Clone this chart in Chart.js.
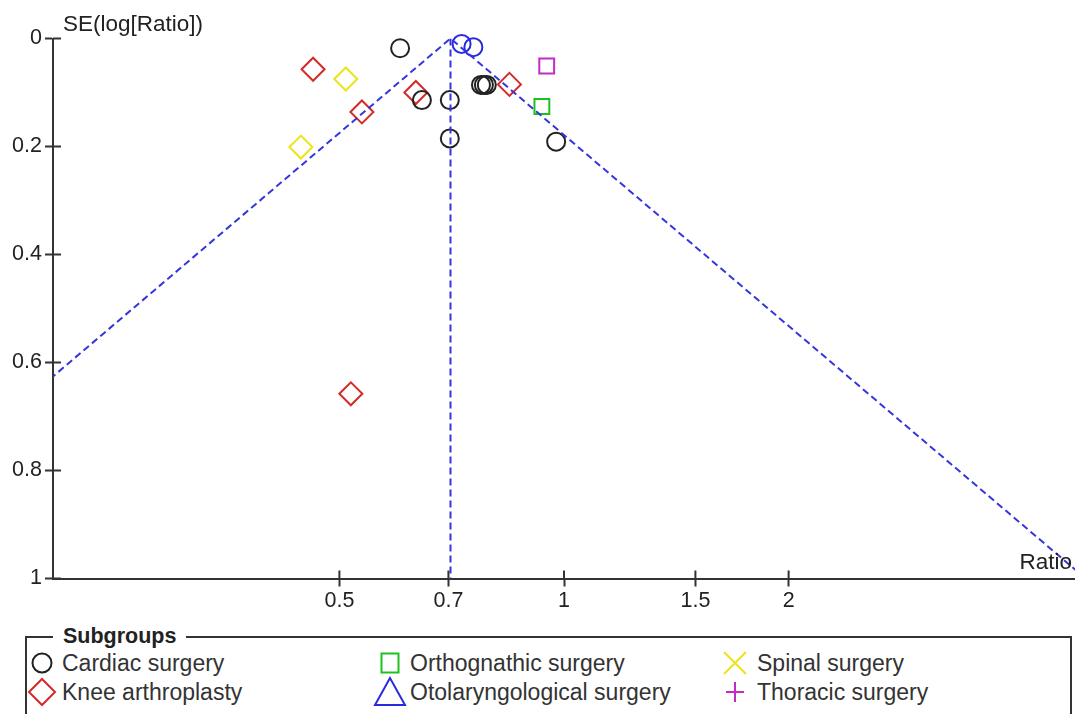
<!DOCTYPE html>
<html>
<head>
<meta charset="utf-8">
<script src="https://cdn.jsdelivr.net/npm/chart.js@4/dist/chart.umd.min.js"></script>
<style>
  html, body { margin: 0; padding: 0; background: #fff; width: 1075px; height: 714px; overflow: hidden;
    font-family: 'Liberation Sans', Arial, sans-serif; color: #222; }
  #plot { position: absolute; left: 0; top: 0; }
  #legend { position: absolute; left: 25px; top: 636px; width: 1047px; height: 130px;
    border: 2px solid #333; box-sizing: border-box; }
  #legend .title { position: absolute; left: 26px; top: -14px; background: #fff; padding: 0 10px;
    font-weight: bold; font-size: 21.5px; line-height: 24px; color: #222; }
  .item { position: absolute; font-size: 23px; line-height: 24px; white-space: nowrap; }
  .item svg { position: absolute; overflow: visible; }
</style>
</head>
<body>
<canvas id="plot" width="1075" height="620"></canvas>
<div id="legend"><span class="title">Subgroups</span></div>
<script>
// Subgroup names and colours
const subgroups = ['Cardiac surgery', 'Knee arthroplasty', 'Orthognathic surgery',
                   'Otolaryngological surgery', 'Spinal surgery', 'Thoracic surgery'];
const subgroupColors = ['#222222', '#d42a2a', '#1ec21e', '#2a2ae0', '#ece41a', '#c42ac4'];

// Study estimates: ratio and SE(log[Ratio]) per subgroup
const cardiacRatio = [0.603, 0.645, 0.703, 0.703, 0.774, 0.781, 0.788, 0.976];
const cardiacSE    = [0.018, 0.114, 0.114, 0.185, 0.086, 0.086, 0.086, 0.191];
const kneeRatio    = [0.461, 0.536, 0.633, 0.845, 0.518];
const kneeSE       = [0.057, 0.136, 0.100, 0.085, 0.658];
const orthoRatio   = [0.934];
const orthoSE      = [0.126];
const otoRatio     = [0.729, 0.756];
const otoSE        = [0.010, 0.016];
const spinalRatio  = [0.510, 0.444];
const spinalSE     = [0.075, 0.201];
const thoracicRatio = [0.948];
const thoracicSE    = [0.051];

// Pooled estimate and funnel limits
const pooledRatio = 0.7045;
const seMax = 1;
const z = 1.96;

// Axes
const xMin = 0.2066, xMax = 4.84;
const xTicks = [0.5, 0.7, 1, 1.5, 2];
const xTickLabels = ['0.5', '0.7', '1', '1.5', '2'];
const yTicks = [0, 0.2, 0.4, 0.6, 0.8, 1];
const yTickLabels = ['0', '0.2', '0.4', '0.6', '0.8', '1'];
const yAxisTitle = 'SE(log[Ratio])';
const xAxisTitle = 'Ratio';

const FONT = "'Liberation Sans', Arial, sans-serif";
const INK = '#222';
const AXIS = '#333';
const FUNNEL = '#3535dc';

function pts(rx, se) { return rx.map((r, i) => ({ x: r, y: se[i] })); }

function markerSet(label, rx, se, color, style, radius) {
  return {
    label, data: pts(rx, se), showLine: false, clip: false,
    pointStyle: style, pointRadius: radius, pointHoverRadius: radius,
    pointBorderColor: color, pointBackgroundColor: 'rgba(0,0,0,0)', pointBorderWidth: 2,
    borderColor: color, backgroundColor: 'rgba(0,0,0,0)'
  };
}

const funnelLine = {
  label: 'funnel', showLine: true, pointRadius: 0, borderColor: FUNNEL, borderWidth: 2,
  borderDash: [7, 4], fill: false,
  data: [
    { x: pooledRatio * Math.exp(-z * seMax), y: seMax },
    { x: pooledRatio, y: 0 },
    { x: pooledRatio * Math.exp(z * seMax), y: seMax }
  ]
};
const pooledLine = {
  label: 'pooled', showLine: true, pointRadius: 0, borderColor: FUNNEL, borderWidth: 2,
  borderDash: [7, 4], fill: false,
  data: [{ x: pooledRatio, y: 0 }, { x: pooledRatio, y: seMax }]
};

// Tick marks crossing into the plot, plus the axis captions
const decorations = {
  id: 'decorations',
  afterDraw(chart) {
    const { ctx, chartArea, scales } = chart;
    ctx.save();
    ctx.strokeStyle = AXIS;
    ctx.lineWidth = 2;
    ctx.beginPath();
    xTicks.forEach(v => {
      const px = scales.x.getPixelForValue(v);
      ctx.moveTo(px, chartArea.bottom);
      ctx.lineTo(px, chartArea.bottom - 8);
    });
    yTicks.forEach(v => {
      const py = scales.y.getPixelForValue(v);
      ctx.moveTo(chartArea.left, py);
      ctx.lineTo(chartArea.left + 8, py);
    });
    ctx.stroke();
    ctx.fillStyle = INK;
    ctx.font = '22.5px ' + FONT;
    ctx.textBaseline = 'alphabetic';
    ctx.textAlign = 'left';
    ctx.fillText(yAxisTitle, chartArea.left + 10, 31);
    ctx.textAlign = 'right';
    ctx.fillText(xAxisTitle, chartArea.right - 3, chartArea.bottom - 10);
    ctx.restore();
  }
};

new Chart(document.getElementById('plot'), {
  type: 'scatter',
  data: {
    datasets: [
      funnelLine, pooledLine,
      markerSet(subgroups[0], cardiacRatio, cardiacSE, subgroupColors[0], 'circle', 9),
      markerSet(subgroups[1], kneeRatio, kneeSE, subgroupColors[1], 'rectRot', 11.5),
      markerSet(subgroups[2], orthoRatio, orthoSE, subgroupColors[2], 'rect', 10.5),
      markerSet(subgroups[3], otoRatio, otoSE, subgroupColors[3], 'circle', 9),
      markerSet(subgroups[4], spinalRatio, spinalSE, subgroupColors[4], 'rectRot', 11.5),
      markerSet(subgroups[5], thoracicRatio, thoracicSE, subgroupColors[5], 'rect', 10.5)
    ]
  },
  options: {
    responsive: false,
    animation: false,
    devicePixelRatio: 1,
    layout: { autoPadding: false, padding: { top: 38.5, left: 0, right: 0, bottom: 0 } },
    plugins: { legend: { display: false }, tooltip: { enabled: false } },
    scales: {
      x: {
        type: 'logarithmic', position: 'bottom', min: xMin, max: xMax,
        afterBuildTicks: s => { s.ticks = xTicks.map(v => ({ value: v })); },
        afterFit: s => { s.height = 41.5; },
        ticks: { autoSkip: false, maxRotation: 0, padding: 2, color: INK,
                 font: { family: FONT, size: 21.5 }, callback: (v, i) => xTickLabels[i] },
        grid: { display: true, drawOnChartArea: false, drawTicks: true, tickLength: 8,
                tickWidth: 2, tickColor: AXIS, color: AXIS },
        border: { display: true, color: AXIS, width: 2 }
      },
      y: {
        type: 'linear', reverse: true, min: 0, max: 1,
        afterBuildTicks: s => { s.ticks = yTicks.map(v => ({ value: v })); },
        afterFit: s => { s.width = 53; },
        ticks: { autoSkip: false, padding: 3, color: INK,
                 font: { family: FONT, size: 21.5 }, callback: (v, i) => yTickLabels[i] },
        grid: { display: true, drawOnChartArea: false, drawTicks: true, tickLength: 8,
                tickWidth: 2, tickColor: AXIS, color: AXIS },
        border: { display: true, color: AXIS, width: 2 }
      }
    }
  },
  plugins: [decorations]
});

// Legend: symbol + label in three columns, two rows
const legendSymbols = ['circle', 'diamond', 'square', 'triangle', 'cross', 'plus'];
const legendCols = [{ sym: 15, text: 35 }, { sym: 363, text: 383 }, { sym: 708, text: 730 }];
const legendRows = [25, 54];
const legendOrder = [[0, 0], [0, 1], [1, 0], [1, 1], [2, 0], [2, 1]];

function symbolSvg(kind, color) {
  const s = 'fill="none" stroke="' + color + '" stroke-width="2"';
  switch (kind) {
    case 'circle':   return '<circle cx="0" cy="0" r="9.5" ' + s + '/>';
    case 'diamond':  return '<polygon points="-13,0 0,-13 13,0 0,13" ' + s + '/>';
    case 'square':   return '<rect x="-8.5" y="-9.5" width="17" height="19" ' + s + '/>';
    case 'triangle': return '<polygon points="0,-14 -15,13 15,13" ' + s + '/>';
    case 'cross':    return '<path d="M-11,-11 L11,11 M11,-11 L-11,11" ' + s + '/>';
    case 'plus':     return '<path d="M-9,0 L9,0 M0,-10 L0,10" ' + s + '/>';
  }
}

const legendEl = document.getElementById('legend');
subgroups.forEach((name, i) => {
  const [c, r] = legendOrder[i];
  const col = legendCols[c];
  const cy = legendRows[r];
  const item = document.createElement('div');
  item.className = 'item';
  item.style.left = col.text + 'px';
  item.style.top = (cy - 12) + 'px';
  const dx = col.sym - col.text;
  item.innerHTML = '<svg width="1" height="1" style="left:' + dx + 'px;top:12px">' +
    symbolSvg(legendSymbols[i], subgroupColors[i]) + '</svg>' +
    '<span style="color:#333">' + name + '</span>';
  legendEl.appendChild(item);
});
</script>
</body>
</html>
